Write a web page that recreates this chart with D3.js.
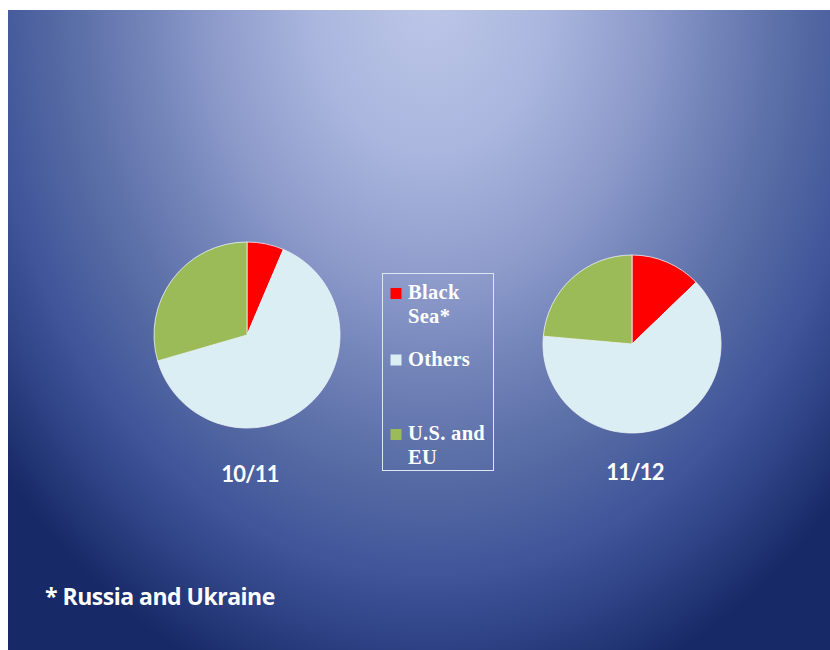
<!DOCTYPE html>
<html>
<head>
<meta charset="utf-8">
<script src="https://cdn.jsdelivr.net/npm/d3@7"></script>
<style>
  html, body { margin: 0; padding: 0; background: #fff; }
</style>
</head>
<body>
<div id="chart"></div>
<script>
// shares of world wheat exports (%)
var seasons = ["10/11", "11/12"];
var categories = ["Black Sea*", "Others", "U.S. and EU"];
var legendLines = [["Black", "Sea*"], ["Others"], ["U.S. and", "EU"]];
var share1011 = [6.4, 64.1, 29.5];
var share1112 = [12.8, 63.6, 23.6];
var sliceColors = ["#ff0000", "#daeef3", "#9bbb59"];
var footnote = "* Russia and Ukraine";

var width = 830, height = 650;

var svg = d3.select("#chart")
  .append("svg")
  .attr("width", width)
  .attr("height", height);

var defs = svg.append("defs");
var grad = defs.append("radialGradient")
  .attr("id", "bg")
  .attr("gradientUnits", "userSpaceOnUse")
  .attr("cx", 430).attr("cy", 0).attr("r", 560)
  .attr("gradientTransform", "translate(430,0) scale(1,1.3) translate(-430,0)");
[[0, "#bcc6e8"], [0.21, "#aab6de"], [0.39, "#8d9bcb"], [0.51, "#7384b9"],
 [0.62, "#5d71a9"], [0.70, "#4f64a0"], [0.79, "#40559a"], [0.88, "#2f4386"],
 [1, "#172966"]].forEach(function (s) {
  grad.append("stop").attr("offset", s[0]).attr("stop-color", s[1]);
});

// slide background
svg.append("rect")
  .attr("x", 8).attr("y", 10)
  .attr("width", width - 8).attr("height", height - 10)
  .attr("fill", "url(#bg)");

var color = d3.scaleOrdinal().domain(categories).range(sliceColors);
var pie = d3.pie().sort(null);

var pies = [
  { label: seasons[0], values: share1011, cx: 247, cy: 335, r: 93, ly: 482 },
  { label: seasons[1], values: share1112, cx: 632, cy: 344, r: 89, ly: 480 }
];

pies.forEach(function (p) {
  var arc = d3.arc().innerRadius(0).outerRadius(p.r);
  var g = svg.append("g").attr("transform", "translate(" + p.cx + "," + p.cy + ")");
  g.selectAll("path")
    .data(pie(p.values))
    .enter().append("path")
    .attr("d", arc)
    .attr("fill", function (d, i) { return color(categories[i]); })
    .attr("stroke", "#eef3f8")
    .attr("stroke-width", 0.8);

  svg.append("text")
    .attr("x", p.cx + 3)
    .attr("y", p.ly)
    .attr("text-anchor", "middle")
    .attr("font-family", "Lato, 'Open Sans', sans-serif")
    .attr("font-weight", "bold")
    .attr("font-size", 22)
    .attr("letter-spacing", -0.8)
    .attr("fill", "#fff")
    .text(p.label);
});

// legend
svg.append("rect")
  .attr("x", 382.5).attr("y", 273.5)
  .attr("width", 111).attr("height", 197)
  .attr("fill", "none")
  .attr("stroke", "#dfe5f2")
  .attr("stroke-width", 1);

var ly = d3.scalePoint().domain(categories).range([299, 440]);

var item = svg.selectAll("g.legend")
  .data(categories)
  .enter().append("g")
  .attr("class", "legend")
  .attr("transform", function (d, i) { return "translate(390," + (ly(d) - (i === 1 ? 4 : 0)) + ")"; });

item.append("rect")
  .attr("x", 0.5).attr("y", -11)
  .attr("width", 11).attr("height", 11)
  .attr("fill", function (d) { return color(d); });

item.each(function (d, i) {
  d3.select(this).selectAll("text")
    .data(legendLines[i])
    .enter().append("text")
    .attr("x", 18)
    .attr("y", function (t, j) { return j * 24; })
    .attr("font-family", "'Liberation Serif', 'Times New Roman', serif")
    .attr("font-weight", "bold")
    .attr("font-size", 20.5)
    .attr("letter-spacing", 0.3)
    .attr("fill", "#fff")
    .text(function (t) { return t; });
});

svg.append("text")
  .attr("x", 45)
  .attr("y", 605)
  .attr("font-family", "'Open Sans', Lato, sans-serif")
  .attr("font-weight", "bold")
  .attr("font-size", 23)
  .attr("letter-spacing", -0.5)
  .attr("fill", "#fff")
  .text(footnote);
</script>
</body>
</html>
